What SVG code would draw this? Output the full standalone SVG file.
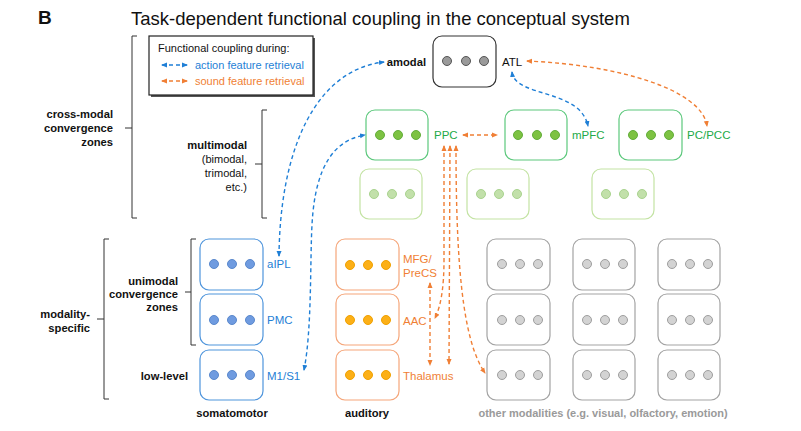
<svg xmlns="http://www.w3.org/2000/svg" width="801" height="431" viewBox="0 0 801 431">
<defs>
<marker id="ab" viewBox="0 0 6 6" refX="5" refY="3" markerWidth="6" markerHeight="6" markerUnits="userSpaceOnUse" orient="auto-start-reverse"><path d="M0,0.5 L6,3 L0,5.5 Z" fill="#1f7fd6"/></marker>
<marker id="ao" viewBox="0 0 6 6" refX="5" refY="3" markerWidth="6" markerHeight="6" markerUnits="userSpaceOnUse" orient="auto-start-reverse"><path d="M0,0.5 L6,3 L0,5.5 Z" fill="#f07f35"/></marker>
</defs>
<style>
text{font-family:"Liberation Sans",Arial,sans-serif}
.b{font-weight:bold;font-size:11.2px;fill:#111}
.lbl{font-size:11.5px}
.br{fill:none;stroke:#333;stroke-width:1}
.box{fill:#fff;stroke-width:1.2}
.sm{stroke:#4f95dc}.sm circle{fill:#6f9be0;stroke:#5a88cc}
.au{stroke:#f5a67a}.au circle{fill:#fcb017;stroke:#f0a000}
.mm{stroke:#5cc87c}.mm circle{fill:#7dc242;stroke:#62ad3a}
.lm{stroke:#c3e3a3}.lm circle{fill:#c2e0aa;stroke:#a9d38e}
.ot{stroke:#a3a3a3}.ot circle{fill:#d3d3d3;stroke:#9e9e9e}
.am{stroke:#333}.am circle{fill:#9a9a9a;stroke:#555}
circle{stroke-width:1}
.da{fill:none;stroke:#1f7fd6;stroke-width:1.4;stroke-dasharray:4 3;marker-end:url(#ab)}
.da2{marker-start:url(#ab)}
.do{fill:none;stroke:#f07f35;stroke-width:1.4;stroke-dasharray:4 3;marker-end:url(#ao)}
.do2{marker-start:url(#ao)}
.tb{fill:#1f7fd6}.to{fill:#f07f35}.tg{fill:#22aa48}.tk{fill:#111}
</style>
<rect width="801" height="431" fill="#fff"/>
<text x="38" y="24" font-size="19" font-weight="bold" fill="#111">B</text>
<text x="131" y="25" font-size="18.5" fill="#111">Task-dependent functional coupling in the conceptual system</text>

<g id="legend">
<rect x="151" y="38" width="164" height="59" fill="#555"/>
<rect x="149" y="36" width="164" height="59" fill="#fff" stroke="#222" stroke-width="1.2"/>
<text x="158" y="52" font-size="11" fill="#111">Functional coupling during:</text>
<line x1="162" y1="65" x2="187" y2="65" class="da da2"/>
<text x="195" y="69" font-size="11" class="tb">action feature retrieval</text>
<line x1="162" y1="81" x2="187" y2="81" class="do do2"/>
<text x="195" y="85" font-size="11" class="to">sound feature retrieval</text>
</g>

<g id="brackets">
<path class="br" d="M137,36 H132 V218 H137 M132,128 H125"/>
<text class="b" text-anchor="end" x="113" y="118">cross-modal</text>
<text class="b" text-anchor="end" x="113" y="132">convergence</text>
<text class="b" text-anchor="end" x="113" y="146">zones</text>
<path class="br" d="M267,110 H262 V218 H267 M262,164 H255"/>
<text class="b" text-anchor="end" x="247" y="149">multimodal</text>
<text class="tk" font-size="11" text-anchor="end" x="247" y="163">(bimodal,</text>
<text class="tk" font-size="11" text-anchor="end" x="247" y="177">trimodal,</text>
<text class="tk" font-size="11" text-anchor="end" x="247" y="191">etc.)</text>
<path class="br" d="M109,239 H104 V399 H109 M104,319 H97"/>
<text class="b" text-anchor="end" x="90" y="318">modality-</text>
<text class="b" text-anchor="end" x="90" y="332">specific</text>
<path class="br" d="M196,239 H191 V345 H196 M191,292 H185"/>
<text class="b" text-anchor="end" x="178" y="285">unimodal</text>
<text class="b" text-anchor="end" x="178" y="298">convergence</text>
<text class="b" text-anchor="end" x="178" y="311">zones</text>
<text class="b" text-anchor="end" x="188" y="380">low-level</text>
<text class="b" text-anchor="middle" x="232" y="417">somatomotor</text>
<text class="b" text-anchor="middle" x="367" y="417">auditory</text>
<text class="b" text-anchor="middle" x="603" y="417" style="fill:#9a9a9a;font-size:11px">other modalities (e.g. visual, olfactory, emotion)</text>
</g>

<g id="atl" class="am">
<rect class="box" x="433" y="36" width="63" height="51" rx="9"/>
<circle cx="447" cy="61" r="4.5"/><circle cx="466" cy="61" r="4.5"/><circle cx="484" cy="61" r="4.5"/>
<text class="b" text-anchor="end" x="426" y="66" stroke="none">amodal</text>
<text class="lbl tk" x="502" y="66" stroke="none">ATL</text>
</g>

<g id="ppc" class="mm">
<rect class="box" x="366" y="110" width="62" height="50" rx="9"/>
<circle cx="380" cy="135" r="4.5"/><circle cx="398" cy="135" r="4.5"/><circle cx="416" cy="135" r="4.5"/>
<text class="lbl tg" x="434" y="139" stroke="none">PPC</text>
</g>
<g id="mpfc" class="mm">
<rect class="box" x="505" y="110" width="62" height="50" rx="9"/>
<circle cx="518" cy="135" r="4.5"/><circle cx="537" cy="135" r="4.5"/><circle cx="555" cy="135" r="4.5"/>
<text class="lbl tg" x="572" y="139" stroke="none">mPFC</text>
</g>
<g id="pcpcc" class="mm">
<rect class="box" x="619" y="110" width="63" height="50" rx="9"/>
<circle cx="633" cy="135" r="4.5"/><circle cx="651" cy="135" r="4.5"/><circle cx="669" cy="135" r="4.5"/>
<text class="lbl tg" x="687" y="139" stroke="none">PC/PCC</text>
</g>
<g id="mm2a" class="lm">
<rect class="box" x="360" y="169" width="62" height="50" rx="9"/>
<circle cx="374" cy="194" r="4.5"/><circle cx="392" cy="194" r="4.5"/><circle cx="410" cy="194" r="4.5"/>
</g>
<g id="mm2b" class="lm">
<rect class="box" x="467" y="169" width="62" height="50" rx="9"/>
<circle cx="481" cy="194" r="4.5"/><circle cx="499" cy="194" r="4.5"/><circle cx="517" cy="194" r="4.5"/>
</g>
<g id="mm2c" class="lm">
<rect class="box" x="592" y="169" width="62" height="50" rx="9"/>
<circle cx="606" cy="194" r="4.5"/><circle cx="624" cy="194" r="4.5"/><circle cx="642" cy="194" r="4.5"/>
</g>

<g id="aipl" class="sm">
<rect class="box" x="200" y="239" width="63" height="51" rx="9"/>
<circle cx="214" cy="264" r="4.5"/><circle cx="232" cy="264" r="4.5"/><circle cx="250" cy="264" r="4.5"/>
<text class="lbl tb" x="267" y="268" stroke="none">aIPL</text>
</g>
<g id="pmc" class="sm">
<rect class="box" x="200" y="294" width="63" height="51" rx="9"/>
<circle cx="214" cy="320" r="4.5"/><circle cx="232" cy="320" r="4.5"/><circle cx="250" cy="320" r="4.5"/>
<text class="lbl tb" x="267" y="324" stroke="none">PMC</text>
</g>
<g id="m1s1" class="sm">
<rect class="box" x="200" y="350" width="63" height="50" rx="9"/>
<circle cx="214" cy="375" r="4.5"/><circle cx="232" cy="375" r="4.5"/><circle cx="250" cy="375" r="4.5"/>
<text class="lbl tb" x="267" y="380" stroke="none">M1/S1</text>
</g>

<g id="mfg" class="au">
<rect class="box" x="336" y="239" width="63" height="51" rx="9"/>
<circle cx="350" cy="265" r="4.5"/><circle cx="368" cy="265" r="4.5"/><circle cx="386" cy="265" r="4.5"/>
<text class="lbl to" x="403" y="263" stroke="none">MFG/</text>
<text class="lbl to" x="403" y="277" stroke="none">PreCS</text>
</g>
<g id="aac" class="au">
<rect class="box" x="336" y="294" width="63" height="51" rx="9"/>
<circle cx="350" cy="320" r="4.5"/><circle cx="368" cy="320" r="4.5"/><circle cx="386" cy="320" r="4.5"/>
<text class="lbl to" x="403" y="325" stroke="none">AAC</text>
</g>
<g id="thalamus" class="au">
<rect class="box" x="336" y="350" width="63" height="50" rx="9"/>
<circle cx="350" cy="375" r="4.5"/><circle cx="368" cy="375" r="4.5"/><circle cx="386" cy="375" r="4.5"/>
<text class="lbl to" x="403" y="380" stroke="none">Thalamus</text>
</g>

<g id="o11" class="ot"><rect class="box" x="487" y="239" width="63" height="51" rx="9"/><circle cx="502" cy="264" r="4.5"/><circle cx="520" cy="264" r="4.5"/><circle cx="538" cy="264" r="4.5"/></g>
<g id="o12" class="ot"><rect class="box" x="487" y="294" width="63" height="51" rx="9"/><circle cx="502" cy="320" r="4.5"/><circle cx="520" cy="320" r="4.5"/><circle cx="538" cy="320" r="4.5"/></g>
<g id="o13" class="ot"><rect class="box" x="487" y="350" width="63" height="50" rx="9"/><circle cx="502" cy="375" r="4.5"/><circle cx="520" cy="375" r="4.5"/><circle cx="538" cy="375" r="4.5"/></g>
<g id="o21" class="ot"><rect class="box" x="573" y="239" width="62" height="51" rx="9"/><circle cx="587" cy="264" r="4.5"/><circle cx="605" cy="264" r="4.5"/><circle cx="623" cy="264" r="4.5"/></g>
<g id="o22" class="ot"><rect class="box" x="573" y="294" width="62" height="51" rx="9"/><circle cx="587" cy="320" r="4.5"/><circle cx="605" cy="320" r="4.5"/><circle cx="623" cy="320" r="4.5"/></g>
<g id="o23" class="ot"><rect class="box" x="573" y="350" width="62" height="50" rx="9"/><circle cx="587" cy="375" r="4.5"/><circle cx="605" cy="375" r="4.5"/><circle cx="623" cy="375" r="4.5"/></g>
<g id="o31" class="ot"><rect class="box" x="658" y="239" width="62" height="51" rx="9"/><circle cx="672" cy="264" r="4.5"/><circle cx="690" cy="264" r="4.5"/><circle cx="708" cy="264" r="4.5"/></g>
<g id="o32" class="ot"><rect class="box" x="658" y="294" width="62" height="51" rx="9"/><circle cx="672" cy="320" r="4.5"/><circle cx="690" cy="320" r="4.5"/><circle cx="708" cy="320" r="4.5"/></g>
<g id="o33" class="ot"><rect class="box" x="658" y="350" width="62" height="50" rx="9"/><circle cx="672" cy="375" r="4.5"/><circle cx="690" cy="375" r="4.5"/><circle cx="708" cy="375" r="4.5"/></g>

<g id="connectors">
<path class="da da2" d="M279,256 C280,150 315,70 384,62"/>
<path class="da da2" d="M304,370 C312,330 310,260 312,225 C315,165 335,140 365,135"/>
<path class="da da2" d="M512,72 C515,98 580,88 588,126"/>
<path class="do do2" d="M527,61 C620,65 702,90 707,126"/>
<path class="do do2" d="M463,135 L497,135"/>
<path class="do do2" d="M444,146 L444,260 Q444,300 435,318"/>
<path class="do do2" d="M450,146 L449,364"/>
<path class="do do2" d="M456,146 C456,260 462,340 485,373"/>
<path class="do do2" d="M430,283 L430,365"/>
</g>
</svg>
